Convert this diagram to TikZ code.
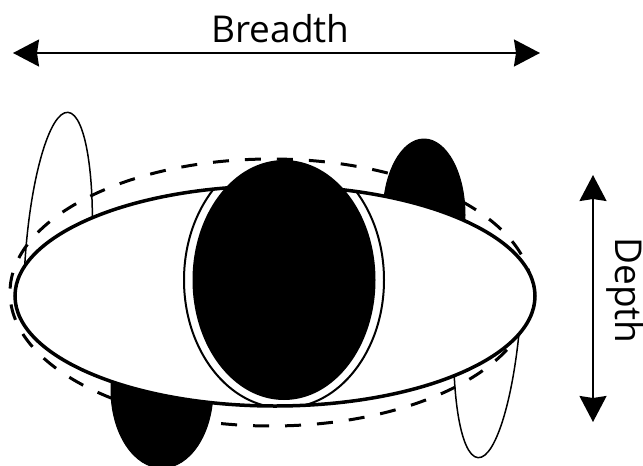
\documentclass[tikz,border=0pt]{standalone}
\usepackage{fontspec}
\setmainfont{Open Sans}
\usetikzlibrary{arrows.meta}
\begin{document}
\begin{tikzpicture}[x=1pt,y=-1pt,
  finwhite/.style={fill=white,draw=black,line width=1.5pt},
  finblack/.style={fill=black,draw=black,line width=1pt},
  hull/.style={fill=white,draw=black,line width=3.5pt},
  dashedhull/.style={draw=black,line width=3pt,dash pattern=on 16pt off 16pt},
  ringline/.style={draw=black,line width=2pt},
  dimarrow/.style={line width=2pt,
    {Stealth[length=26pt,width=27pt,inset=2pt]}-{Stealth[length=26pt,width=27pt,inset=2pt]}},
  lbl/.style={font=\fontsize{37}{40}\selectfont,inner sep=0pt}]
\useasboundingbox (0,0) rectangle (643,466);
\begin{scope}
\clip (0,0) rectangle (643,466);
% fins behind the hull: upper ones only above, lower ones only below
\begin{scope}
\clip (0,0) rectangle (643,290);
\draw[finwhite,rotate around={-3.8:(58,262)}] (58,262) ellipse [x radius=33, y radius=150];
\draw[finblack] (424,215) ellipse [x radius=41, y radius=76];
\end{scope}
\begin{scope}
\clip (0,300) rectangle (643,466);
\draw[finwhite,rotate around={-3.8:(488,308)}] (488,308) ellipse [x radius=33, y radius=150];
\draw[finblack] (162,390) ellipse [x radius=51, y radius=78];
\end{scope}
% dashed outline
\draw[dashedhull] (271,292.5) ellipse [x radius=261, y radius=133.5];
% main hull
\draw[hull] (275,296) ellipse [x radius=260, y radius=110];
% ring round the central section, seen only inside the hull
\begin{scope}
\clip (275,296) ellipse [x radius=259, y radius=109];
\draw[ringline] (284,280) ellipse [x radius=100, y radius=128];
\end{scope}
% central black section
\fill[black] (284,280) ellipse [x radius=91.5, y radius=120];
\end{scope}
% dimension arrows
\coordinate (bL) at (13,53);
\coordinate (bR) at (540,53);
\draw[dimarrow] (bL) -- (bR);
\coordinate (dT) at (593,175);
\coordinate (dB) at (593,422);
\draw[dimarrow] (dT) -- (dB);
\node[lbl,anchor=base] (breadth) at (280.5,42) {Breadth};
\node[lbl,anchor=base,rotate=-90] (depth) at (615,290.5) {Depth};
\end{tikzpicture}
\end{document}
